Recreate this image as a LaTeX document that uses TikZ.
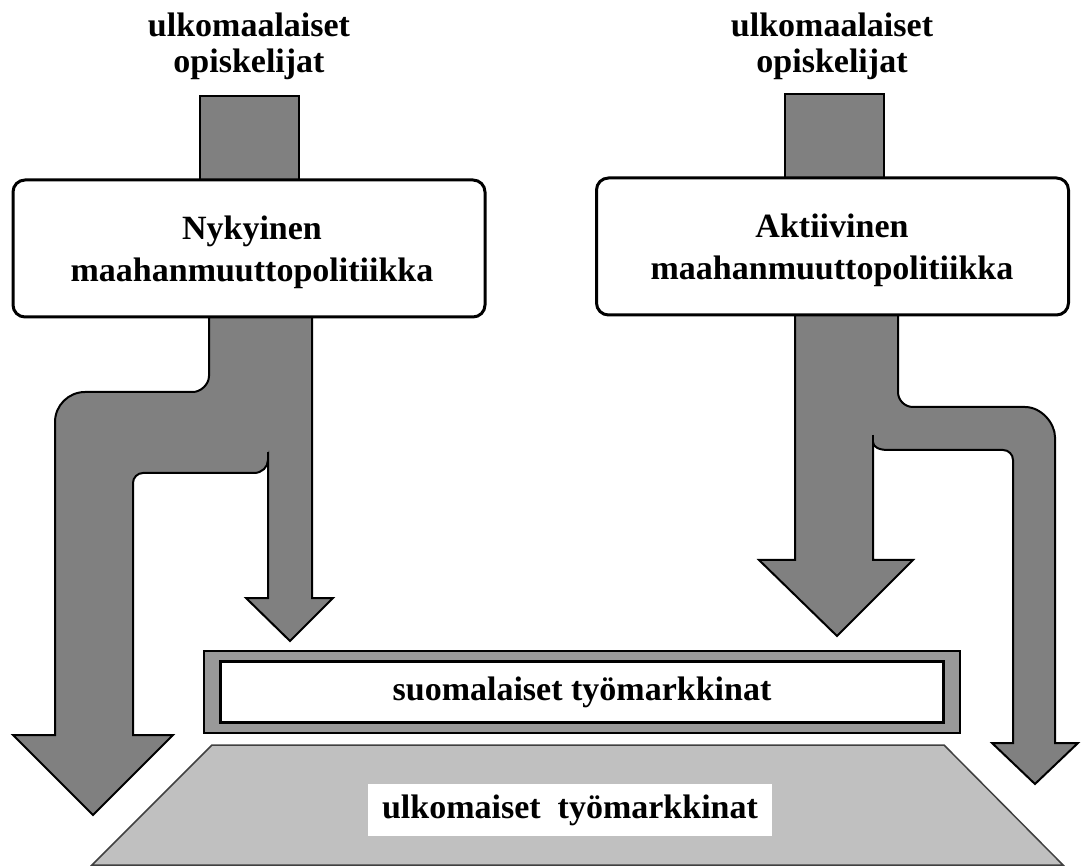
\documentclass[tikz,border=0pt]{standalone}
\usepackage{fontspec}
\setmainfont{Liberation Serif}
\usetikzlibrary{positioning}
\definecolor{flowgray}{HTML}{808080}
\definecolor{framegray}{HTML}{999999}
\definecolor{basegray}{HTML}{C0C0C0}

\begin{document}
\begin{tikzpicture}[x=1pt,y=-1pt,
        flow/.style={draw=black,line width=2,fill=flowgray,line join=miter},
        tick/.style={draw=black,line width=2},
        source/.style={font=\fontsize{34}{36}\selectfont\bfseries,align=center,inner sep=0,anchor=north},
        policy/.style={draw=black,line width=3,fill=white,rounded corners=12,
                minimum width=472,minimum height=137,inner sep=0},
        policytext/.style={align=center,inner sep=0,anchor=north,
                font=\fontsize{34}{42}\selectfont\bfseries},
        frame/.style={draw=black,line width=2.5,fill=framegray,minimum width=756,minimum height=82,inner sep=0},
        market/.style={draw=black,line width=2.5,fill=white,minimum width=723,minimum height=61,
                inner sep=0,font=\fontsize{34}{36}\selectfont\bfseries},
        base/.style={draw=black!75,line width=1.5,fill=basegray},
        tag/.style={fill=white,minimum width=404,minimum height=52,inner sep=0,
                font=\fontsize{34}{36}\selectfont\bfseries}]
        \useasboundingbox (0,0) rectangle (1088,866);

        \node[source] (studentsNow) at (249,13) {ulkomaalaiset\\opiskelijat};
        \node[source] (studentsActive) at (832,13) {ulkomaalaiset\\opiskelijat};

        \draw[flow] (200,96) rectangle (299,182);
        \draw[flow] (785,94) rectangle (884,180);

        \draw[flow] (209,317) -- (209,376) .. controls (209,385) and (200,392) .. (193,392)
                -- (85,392) .. controls (68.5,392) and (55,405.5) .. (55,422)
                -- (55,735) -- (13,735) -- (93,815) -- (173,735) -- (133,735)
                -- (133,483) .. controls (133,477.5) and (137.5,473) .. (143,473)
                -- (254,473) .. controls (262,473) and (268,467) .. (268,460)
                -- (268,598) -- (246,598) -- (290,641) -- (333,598) -- (312,598)
                -- (312,317) -- cycle;
        \draw[tick] (268,452) -- (268,461);

        \draw[flow] (795,315) -- (795,560) -- (759,560) -- (837,636) -- (913,560) -- (873,560)
                -- (873,442) .. controls (873,447) and (879,450) .. (888,450)
                -- (1003,450) .. controls (1008.5,450) and (1013,454.5) .. (1013,460)
                -- (1013,743) -- (992,743) -- (1035,784) -- (1078,743) -- (1055,743)
                -- (1055,437) .. controls (1055,423.5) and (1041.5,407) .. (1025,407)
                -- (913,407) .. controls (904.75,407) and (898,400.25) .. (898,392)
                -- (898,315) -- cycle;
        \draw[tick] (873,435) -- (873,443);

        \node[policy] (nowPolicy) at (249,248.5) {};
        \node[policytext] (nowText) at (252,216) {Nykyinen\\maahanmuuttopolitiikka};
        \node[policy] (activePolicy) at (832.5,246.5) {};
        \node[policytext] (activeText) at (832,214) {Aktiivinen\\maahanmuuttopolitiikka};

        \node[frame] (homeFrame) at (582,692) {};
        \node[market] (homeMarket) at (homeFrame.center) {suomalaiset työmarkkinat};

        \draw[base] (212,745) -- (944,745) -- (1063,865) -- (92,865) -- cycle;
        \node[tag] (abroadMarket) at (570,810) {ulkomaiset~~työmarkkinat};
\end{tikzpicture}
\end{document}
